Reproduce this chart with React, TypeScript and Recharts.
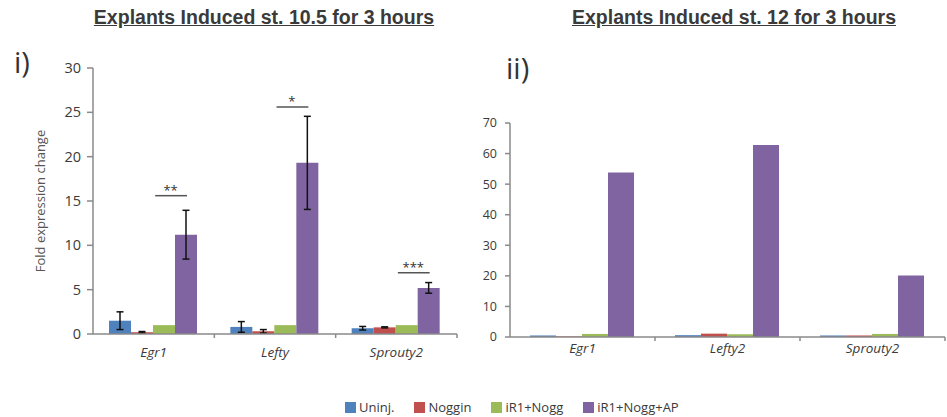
import { Bar, BarChart, ErrorBar, LabelList, XAxis, YAxis } from "recharts";

const SERIES = ["Uninj.", "Noggin", "iR1+Nogg", "iR1+Nogg+AP"];
const COLORS = ["#4F81BD", "#C0504D", "#9BBB59", "#8064A2"];

// st. 10.5 explants
const GENES_A = ["Egr1", "Lefty", "Sprouty2"];
const UNINJ_A = [1.5, 0.8, 0.65];
const UNINJ_A_ERR = [1.0, 0.6, 0.2];
const NOGGIN_A = [0.2, 0.3, 0.75];
const NOGGIN_A_ERR = [0.08, 0.2, 0.06];
const IR1_A = [1.0, 1.0, 1.0];
const AP_A = [11.2, 19.3, 5.2];
const AP_A_ERR = [2.75, 5.25, 0.6];
const SIG_LEVEL = [15.6, 25.6, 6.9];
const SIG_STARS = ["**", "*", "***"];

// st. 12 explants
const GENES_B = ["Egr1", "Lefty2", "Sprouty2"];
const UNINJ_B = [0.5, 0.6, 0.5];
const NOGGIN_B = [0.2, 1.1, 0.5];
const IR1_B = [1.0, 0.9, 1.0];
const AP_B = [53.8, 62.8, 20.1];

const TICKS_A = [0, 5, 10, 15, 20, 25, 30];
const TICKS_B = [0, 10, 20, 30, 40, 50, 60, 70];

const dataA = GENES_A.map((gene, i) => ({
  gene,
  s0: UNINJ_A[i],
  s0err: UNINJ_A_ERR[i],
  s1: NOGGIN_A[i],
  s1err: NOGGIN_A_ERR[i],
  s2: IR1_A[i],
  s3: AP_A[i],
  s3err: AP_A_ERR[i],
}));

const dataB = GENES_B.map((gene, i) => ({
  gene,
  s0: UNINJ_B[i],
  s1: NOGGIN_B[i],
  s2: IR1_B[i],
  s3: AP_B[i],
}));

const AXIS = "#8a8a8a";
const TEXT = "#3a3a3a";
const FONT = "'Open Sans', sans-serif";

function GeneTick(props: any) {
  const { x, y, payload, dy } = props;
  const half = payload?.offset ?? 0;
  return (
    <g>
      <line x1={x + half} x2={x + half} y1={y} y2={y + 4} stroke={AXIS} strokeWidth={1.5} />
      <text
        x={x}
        y={y + dy}
        textAnchor="middle"
        fontFamily={FONT}
        fontSize={13.5}
        fontStyle="italic"
        fill={TEXT}
      >
        {payload.value}
      </text>
    </g>
  );
}

// significance bar + stars drawn above the AP bar
function SigMark(props: any) {
  const { x, y, width, height, value, index } = props;
  const perUnit = height / value;
  const ly = y + height - SIG_LEVEL[index] * perUnit;
  const cx = x + width / 2;
  const x1 = cx - width * 1.4;
  return (
    <g>
      <line x1={x1} x2={cx + 1} y1={ly} y2={ly} stroke="#555" strokeWidth={1.5} />
      <text
        x={(x1 + cx) / 2}
        y={ly - 1}
        textAnchor="middle"
        fontFamily={FONT}
        fontSize={13}
        fill="#333"
      >
        {SIG_STARS[index]}
      </text>
    </g>
  );
}

const titleStyle: React.CSSProperties = {
  position: "absolute",
  top: 6,
  fontFamily: "'Liberation Sans', Arial, sans-serif",
  fontWeight: "bold",
  fontSize: 19.5,
  color: TEXT,
  textDecoration: "underline",
  whiteSpace: "nowrap",
  transform: "translateX(-50%)",
};

const panelLabel: React.CSSProperties = {
  position: "absolute",
  fontFamily: FONT,
  fontSize: 29,
  color: "#333",
  lineHeight: 1,
};

export default function App() {
  return (
    <div
      style={{
        position: "absolute",
        left: 0,
        top: 0,
        width: 947,
        height: 417,
        background: "#fff",
      }}
    >
      <div style={{ ...titleStyle, left: 264 }}>Explants Induced st. 10.5 for 3 hours</div>
      <div style={{ ...titleStyle, left: 734 }}>Explants Induced st. 12 for 3 hours</div>
      <div style={{ ...panelLabel, left: 14, top: 47 }}>i)</div>
      <div style={{ ...panelLabel, left: 506, top: 53 }}>ii)</div>

      <div style={{ position: "absolute", left: 0, top: 0 }}>
        <BarChart
          width={470}
          height={370}
          data={dataA}
          margin={{ top: 68, right: 13, left: 0, bottom: 0 }}
          barCategoryGap={16}
          barGap={0}
        >
          <XAxis
            dataKey="gene"
            height={36}
            axisLine={{ stroke: AXIS, strokeWidth: 1.5 }}
            tickLine={false}
            tickSize={0}
            tickMargin={0}
            tick={<GeneTick dy={23} />}
            interval={0}
          />
          <YAxis
            width={93}
            domain={[0, 30]}
            ticks={TICKS_A}
            interval={0}
            axisLine={{ stroke: AXIS, strokeWidth: 1.5 }}
            tickLine={{ stroke: AXIS, strokeWidth: 1.5 }}
            tickSize={6}
            tickMargin={6}
            tick={{ fill: TEXT, fontSize: 14.5, fontFamily: FONT }}
            label={{
              content: (p: any) => {
                const vb = p.viewBox ?? { y: 68, height: 266 };
                const cy = vb.y + vb.height / 2;
                return (
                  <text
                    x={40}
                    y={cy}
                    transform={`rotate(-90 40 ${cy})`}
                    textAnchor="middle"
                    dominantBaseline="central"
                    fontFamily={FONT}
                    fontSize={13}
                    fill="#555"
                  >
                    Fold expression change
                  </text>
                );
              },
            }}
          />
          <Bar dataKey="s0" fill={COLORS[0]} isAnimationActive={false}>
            <ErrorBar dataKey="s0err" width={3.5} stroke="#111" strokeWidth={1.5} />
          </Bar>
          <Bar dataKey="s1" fill={COLORS[1]} isAnimationActive={false}>
            <ErrorBar dataKey="s1err" width={3.5} stroke="#111" strokeWidth={1.5} />
          </Bar>
          <Bar dataKey="s2" fill={COLORS[2]} isAnimationActive={false} />
          <Bar dataKey="s3" fill={COLORS[3]} isAnimationActive={false}>
            <ErrorBar dataKey="s3err" width={3.5} stroke="#111" strokeWidth={1.5} />
            <LabelList dataKey="s3" content={<SigMark />} />
          </Bar>
        </BarChart>
      </div>

      <div style={{ position: "absolute", left: 470, top: 0 }}>
        <BarChart
          width={477}
          height={373}
          data={dataB}
          margin={{ top: 123, right: 2, left: 0, bottom: 0 }}
          barCategoryGap={20}
          barGap={0}
        >
          <XAxis
            dataKey="gene"
            height={36}
            axisLine={{ stroke: AXIS, strokeWidth: 1.5 }}
            tickLine={false}
            tickSize={0}
            tickMargin={0}
            tick={<GeneTick dy={16} />}
            interval={0}
          />
          <YAxis
            width={40}
            domain={[0, 70]}
            ticks={TICKS_B}
            interval={0}
            axisLine={{ stroke: AXIS, strokeWidth: 1.5 }}
            tickLine={{ stroke: AXIS, strokeWidth: 1.5 }}
            tickSize={5}
            tickMargin={8}
            tick={{ fill: TEXT, fontSize: 12.5, fontFamily: FONT }}
          />
          {SERIES.map((name, i) => (
            <Bar key={name} dataKey={`s${i}`} fill={COLORS[i]} isAnimationActive={false} />
          ))}
        </BarChart>
      </div>

      <div
        style={{
          position: "absolute",
          left: 345,
          top: 399,
          display: "flex",
          gap: 20,
          fontFamily: FONT,
          fontSize: 13,
          color: TEXT,
          lineHeight: "16px",
        }}
      >
        {SERIES.map((name, i) => (
          <div key={name} style={{ display: "flex", alignItems: "center", gap: 3 }}>
            <div style={{ width: 11, height: 11, background: COLORS[i] }} />
            {name}
          </div>
        ))}
      </div>
    </div>
  );
}
